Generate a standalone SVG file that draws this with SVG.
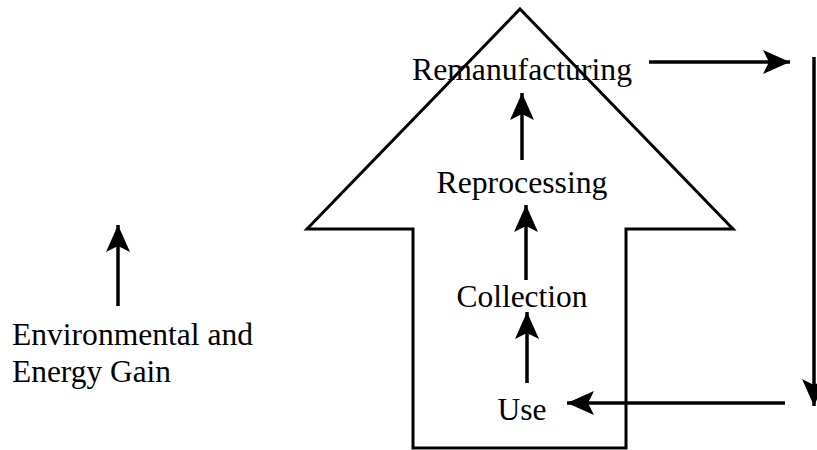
<svg xmlns="http://www.w3.org/2000/svg" width="817" height="450" viewBox="0 0 817 450">
<style>
.lbl{font-family:"Liberation Serif","Times New Roman",serif;font-size:31px;fill:#000}
.c{stroke:#000;stroke-width:3.5;fill:none}
.o{stroke:#000;stroke-width:3;fill:#fff;stroke-linejoin:miter}
</style>
<defs>
<marker id="ah" markerUnits="userSpaceOnUse" markerWidth="30" markerHeight="26" viewBox="-28 -13 30 26" refX="0" refY="0" orient="auto">
<path d="M0,0 L-27,-12 L-21,0 L-27,12 Z" fill="#000"/>
</marker>
</defs>
<g id="bigArrow">
<polygon class="o" points="520,9 733,229 626,229 626,448 413,448 413,229 307,229"/>
</g>
<g id="remanufacturing"><text class="lbl" x="522" y="80" text-anchor="middle" textLength="220" lengthAdjust="spacingAndGlyphs">Remanufacturing</text></g>
<g id="reprocessing"><text class="lbl" x="522" y="193" text-anchor="middle" textLength="171" lengthAdjust="spacingAndGlyphs">Reprocessing</text></g>
<g id="collection"><text class="lbl" x="522" y="307" text-anchor="middle" textLength="131" lengthAdjust="spacingAndGlyphs">Collection</text></g>
<g id="use"><text class="lbl" x="522" y="420" text-anchor="middle" textLength="49" lengthAdjust="spacingAndGlyphs">Use</text></g>
<g id="gain">
<text class="lbl" x="12" y="345" textLength="241" lengthAdjust="spacingAndGlyphs">Environmental and</text>
<text class="lbl" x="12" y="382" textLength="159" lengthAdjust="spacingAndGlyphs">Energy Gain</text>
</g>
<g id="connectors">
<line class="c" x1="649" y1="62" x2="790" y2="62" marker-end="url(#ah)"/>
<line class="c" x1="814" y1="57" x2="814" y2="406" marker-end="url(#ah)"/>
<line class="c" x1="785" y1="403" x2="567" y2="403" marker-end="url(#ah)"/>
<line class="c" x1="527" y1="383" x2="527" y2="312" marker-end="url(#ah)"/>
<line class="c" x1="526" y1="280" x2="526" y2="205" marker-end="url(#ah)"/>
<line class="c" x1="522" y1="160" x2="522" y2="93" marker-end="url(#ah)"/>
<line class="c" x1="118" y1="306" x2="118" y2="225" marker-end="url(#ah)"/>
</g>
</svg>
